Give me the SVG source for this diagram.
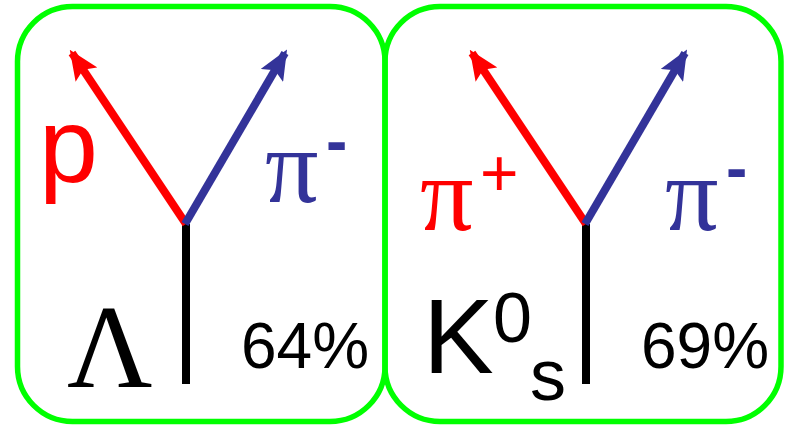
<svg xmlns="http://www.w3.org/2000/svg" width="792" height="426" viewBox="0 0 792 426">
<style>
.box{fill:none;stroke:#00FF00;stroke-width:5.5}
.trk{stroke-width:8;fill:none}
.red{stroke:#FF0000}
.blue{stroke:#333399}
.blk{stroke:#000000}
.sans{font-family:"Liberation Sans",Arial,sans-serif}
.serif{font-family:"Liberation Serif","Times New Roman",serif}
.pi{font-family:"Liberation Serif","Times New Roman",serif;font-size:106px}
</style>
<defs>
<marker id="ahR" markerUnits="userSpaceOnUse" viewBox="0 0 30 26" refX="26" refY="13" markerWidth="30" markerHeight="26" orient="auto">
<path d="M0,0 L30,13 L0,26 L6,13 Z" fill="#FF0000"/>
</marker>
<marker id="ahB" markerUnits="userSpaceOnUse" viewBox="0 0 30 26" refX="26" refY="13" markerWidth="30" markerHeight="26" orient="auto">
<path d="M0,0 L30,13 L0,26 L6,13 Z" fill="#333399"/>
</marker>
</defs>
<rect width="792" height="426" fill="#ffffff"/>
<g id="lambda">
<rect class="box" x="17.5" y="6.5" width="367.5" height="415" rx="55" ry="55"/>
<text class="sans" x="39" y="182" font-size="106" fill="#FF0000">p</text>
<text class="pi" x="265" y="202" fill="#333399">π</text>
<text class="sans" x="326" y="163" font-size="64" font-weight="bold" fill="#333399">-</text>
<text class="serif" x="67" y="387" font-size="118" fill="#000000">Λ</text>
<text class="sans" x="241" y="368" font-size="64" fill="#000000">64%</text>
</g>
<g id="kshort">
<rect class="box" x="385" y="6.5" width="396" height="415" rx="55" ry="55"/>
<text class="pi" x="420" y="230" fill="#FF0000">π</text>
<text class="sans" x="480" y="196" font-size="66" fill="#FF0000">+</text>
<text class="pi" x="665" y="230" fill="#333399">π</text>
<text class="sans" x="726" y="190" font-size="64" font-weight="bold" fill="#333399">-</text>
<text class="sans" x="423" y="373" font-size="106" fill="#000000">K</text>
<text class="sans" x="493" y="342" font-size="70" fill="#000000">0</text>
<text class="sans" x="530" y="400" font-size="72" fill="#000000">s</text>
<text class="sans" x="641" y="368" font-size="64" fill="#000000">69%</text>
</g>
<g id="connectors">
<line class="trk blk" x1="186" y1="384" x2="186" y2="224"/>
<line class="trk red" x1="186" y1="224" x2="72" y2="53" marker-end="url(#ahR)"/>
<line class="trk blue" x1="185" y1="224" x2="285" y2="53" marker-end="url(#ahB)"/>
<line class="trk blk" x1="586" y1="384" x2="586" y2="224"/>
<line class="trk red" x1="586" y1="224" x2="472" y2="53" marker-end="url(#ahR)"/>
<line class="trk blue" x1="585" y1="224" x2="685" y2="53" marker-end="url(#ahB)"/>
</g>
</svg>
